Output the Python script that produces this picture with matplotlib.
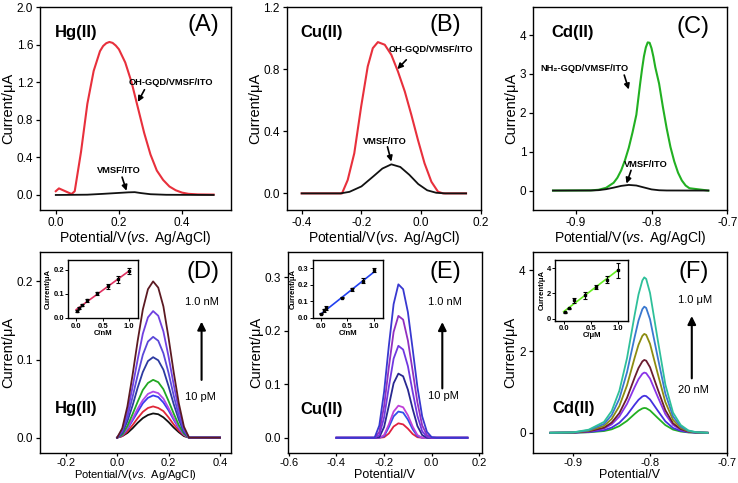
import numpy as np
import matplotlib
matplotlib.use("Agg")
import matplotlib.pyplot as plt

plt.rcParams['font.family'] = ['Liberation Sans', 'DejaVu Sans']
plt.rcParams['mathtext.fontset'] = 'custom'
plt.rcParams['mathtext.rm'] = 'Liberation Sans'
plt.rcParams['mathtext.it'] = 'Liberation Sans:italic'
plt.rcParams['axes.linewidth'] = 1.0

# ---- (A) Hg(II), two electrodes
a_red_x = [0.0, 0.01, 0.03, 0.05, 0.06, 0.08, 0.10, 0.12, 0.14, 0.15, 0.16, 0.17, 0.18, 0.19, 0.20, 0.22,
           0.24, 0.26, 0.28, 0.30, 0.32, 0.34, 0.36, 0.38, 0.40, 0.42, 0.45, 0.50]
a_red_y = [0.04, 0.07, 0.04, 0.01, 0.04, 0.46, 0.97, 1.32, 1.53, 1.585, 1.615, 1.628, 1.618, 1.59, 1.55, 1.41,
           1.20, 0.93, 0.66, 0.43, 0.26, 0.16, 0.09, 0.05, 0.025, 0.012, 0.006, 0.004]
a_blk_x = [0.0, 0.10, 0.15, 0.20, 0.23, 0.25, 0.27, 0.30, 0.35, 0.50]
a_blk_y = [0.0, 0.003, 0.012, 0.022, 0.028, 0.030, 0.020, 0.008, 0.002, 0.0]

# ---- (B) Cu(II)
b_red_x = [-0.40, -0.265, -0.246, -0.224, -0.201, -0.179, -0.162, -0.145, -0.122, -0.10,
           -0.078, -0.055, -0.033, -0.011, 0.011, 0.034, 0.056, 0.073, 0.15]
b_red_y = [0.0, 0.0, 0.086, 0.258, 0.559, 0.817, 0.935, 0.974, 0.957, 0.892,
           0.785, 0.656, 0.505, 0.344, 0.194, 0.075, 0.011, 0.0, 0.0]
b_blk_x = [-0.40, -0.27, -0.24, -0.20, -0.16, -0.13, -0.10, -0.07, -0.04, -0.01, 0.02, 0.05, 0.08, 0.15]
b_blk_y = [0.0, 0.0, 0.01, 0.045, 0.11, 0.16, 0.187, 0.17, 0.12, 0.06, 0.02, 0.004, 0.0, 0.0]

# ---- (C) Cd(II)
c_grn_x = [-0.93, -0.88, -0.87, -0.86, -0.85, -0.845, -0.84, -0.835, -0.83, -0.825, -0.82, -0.8175,
           -0.815, -0.8125, -0.81, -0.8075, -0.805, -0.8025, -0.80, -0.7975, -0.795, -0.79,
           -0.785, -0.78, -0.775, -0.77, -0.765, -0.76, -0.755, -0.75, -0.725]
c_grn_y = [0.0, 0.005, 0.02, 0.07, 0.2, 0.33, 0.52, 0.78, 1.1, 1.5, 1.95, 2.35,
           2.75, 3.12, 3.45, 3.68, 3.81, 3.80, 3.66, 3.44, 3.17, 2.75,
           2.15, 1.6, 1.12, 0.75, 0.46, 0.26, 0.13, 0.06, 0.0]
c_blk_x = [-0.93, -0.88, -0.87, -0.86, -0.85, -0.84, -0.83, -0.82, -0.81, -0.80, -0.79, -0.78, -0.725]
c_blk_y = [0.0, 0.002, 0.01, 0.035, 0.075, 0.12, 0.145, 0.13, 0.08, 0.03, 0.008, 0.002, 0.0]

# ---- (D) Hg(II) 10 pM -> 1.0 nM
d_x = [0.0, 0.02, 0.04, 0.06, 0.08, 0.10, 0.12, 0.14, 0.16, 0.18, 0.20, 0.22, 0.24, 0.26, 0.28, 0.30, 0.35, 0.40]
d_curves = [
    [0, .002, .006, .012, .019, .025, .029, .031, .030, .026, .020, .013, .007, .002, 0, 0, 0, 0],
    [0, .002, .008, .016, .025, .033, .038, .040, .038, .034, .026, .017, .009, .003, 0, 0, 0, 0],
    [0, .003, .011, .022, .033, .044, .051, .054, .052, .045, .035, .023, .012, .004, 0, 0, 0, 0],
    [0, .004, .012, .024, .037, .048, .056, .059, .057, .050, .038, .025, .013, .004, 0, 0, 0, 0],
    [0, .004, .015, .030, .046, .061, .070, .074, .071, .062, .047, .031, .016, .005, 0, 0, 0, 0],
    [0, .006, .021, .041, .064, .084, .098, .103, .099, .087, .066, .043, .023, .007, 0, 0, 0, 0],
    [0, .008, .026, .052, .080, .106, .123, .129, .124, .108, .083, .054, .028, .009, 0, 0, 0, 0],
    [0, .010, .032, .065, .100, .133, .154, .162, .156, .136, .104, .068, .036, .011, 0, 0, 0, 0],
    [0, .012, .040, .080, .124, .164, .190, .200, .192, .168, .128, .084, .044, .014, 0, 0, 0, 0],
]
d_colors = ['#111111', '#e02838', '#3a3af0', '#b048e8', '#22a822', '#2c3aa0', '#5a48d8', '#7040e0', '#5c1a22']
d_conc = [0.01, 0.05, 0.1, 0.2, 0.4, 0.6, 0.8, 1.0]
d_cur = [0.029, 0.042, 0.052, 0.072, 0.102, 0.130, 0.160, 0.195]
d_err = [0.003, 0.004, 0.004, 0.006, 0.007, 0.010, 0.014, 0.012]
d_fit_x = [0.0, 1.0]
d_fit_y = [0.034, 0.194]

# ---- (E) Cu(II) 10 pM -> 1.0 nM
e_x = [-0.40, -0.26, -0.24, -0.22, -0.20, -0.18, -0.16, -0.14, -0.12, -0.10, -0.08, -0.06, -0.04, -0.02, 0.00, 0.02, 0.15]
e_curves = [
    [0, 0, 0, 0, 0.001, 0.008, 0.021, 0.027, 0.025, 0.017, 0.007, 0.001, 0, 0, 0, 0, 0],
    [0, 0, 0, 0, 0.003, 0.020, 0.040, 0.049, 0.047, 0.034, 0.016, 0.003, 0, 0, 0, 0, 0],
    [0, 0, 0, 0, 0.005, 0.025, 0.049, 0.060, 0.057, 0.042, 0.021, 0.005, 0, 0, 0, 0, 0],
    [0, 0, 0, 0.001, 0.020, 0.060, 0.102, 0.120, 0.115, 0.090, 0.054, 0.022, 0.005, 0, 0, 0, 0],
    [0, 0, 0, 0.005, 0.038, 0.095, 0.148, 0.172, 0.165, 0.134, 0.086, 0.041, 0.012, 0.002, 0, 0, 0],
    [0, 0, 0, 0.011, 0.059, 0.132, 0.198, 0.228, 0.221, 0.182, 0.125, 0.066, 0.023, 0.005, 0, 0, 0],
    [0, 0, 0, 0.023, 0.086, 0.172, 0.250, 0.287, 0.278, 0.235, 0.166, 0.095, 0.040, 0.011, 0.001, 0, 0],
]
e_colors = ['#e02040', '#3050e8', '#c040d8', '#282890', '#7038e0', '#9030c0', '#3838d0']
e_conc = [0.01, 0.05, 0.1, 0.4, 0.6, 0.8, 1.0]
e_cur = [0.025, 0.045, 0.058, 0.122, 0.172, 0.225, 0.288]
e_err = [0.003, 0.008, 0.010, 0.004, 0.008, 0.015, 0.012]
e_fit_x = [0.0, 1.0]
e_fit_y = [0.022, 0.275]

# ---- (F) Cd(II) 20 nM -> 1.0 uM
f_x = [-0.93, -0.90, -0.88, -0.86, -0.85, -0.84, -0.83, -0.82, -0.815, -0.81, -0.8075, -0.805,
       -0.80, -0.79, -0.78, -0.77, -0.76, -0.75, -0.74, -0.725]
f_curves = [
    [0, 0.002, 0.012, 0.043, 0.085, 0.165, 0.293, 0.464, 0.543, 0.598, 0.61, 0.604, 0.549, 0.366, 0.189, 0.079, 0.031, 0.009, 0.002, 0],
    [0, 0.003, 0.018, 0.064, 0.127, 0.246, 0.437, 0.692, 0.810, 0.892, 0.91, 0.901, 0.819, 0.546, 0.282, 0.118, 0.046, 0.014, 0.004, 0],
    [0, 0.004, 0.030, 0.104, 0.207, 0.400, 0.710, 1.125, 1.317, 1.450, 1.48, 1.465, 1.332, 0.888, 0.459, 0.192, 0.074, 0.022, 0.006, 0],
    [0, 0.005, 0.036, 0.125, 0.251, 0.483, 0.859, 1.360, 1.593, 1.754, 1.79, 1.772, 1.611, 1.074, 0.555, 0.233, 0.090, 0.027, 0.007, 0],
    [0, 0.007, 0.049, 0.170, 0.340, 0.656, 1.166, 1.847, 2.163, 2.381, 2.43, 2.406, 2.187, 1.458, 0.753, 0.316, 0.122, 0.036, 0.010, 0],
    [0, 0.009, 0.062, 0.217, 0.434, 0.837, 1.488, 2.356, 2.759, 3.038, 3.10, 3.069, 2.790, 1.860, 0.961, 0.403, 0.155, 0.047, 0.012, 0],
    [0, 0.011, 0.076, 0.267, 0.535, 1.031, 1.834, 2.903, 3.400, 3.744, 3.82, 3.782, 3.438, 2.292, 1.184, 0.497, 0.191, 0.057, 0.015, 0],
]
f_colors = ['#22b022', '#4430e0', '#8a34e8', '#6a1c30', '#8c8c10', '#3a78d0', '#2ec09a']
f_conc = [0.02, 0.1, 0.2, 0.4, 0.6, 0.8, 1.0]
f_cur = [0.5, 0.82, 1.45, 1.85, 2.5, 3.1, 3.85]
f_err = [0.05, 0.06, 0.2, 0.3, 0.15, 0.25, 0.6]
f_fit_x = [0.0, 1.0]
f_fit_y = [0.55, 3.85]

RED = '#e8303c'
XLAB_REF = r'Potential/V($\it{vs.}$ Ag/AgCl)'
YLAB = 'Current/\u03bcA'

fig = plt.figure(figsize=(7.38, 4.83), dpi=100)


def style(ax, xlim, ylim, xticks, yticks, fmt, xlabel, xlsize=10, label_y=None):
    ax.set_xlim(*xlim)
    ax.set_ylim(*ylim)
    ax.set_xticks(xticks)
    ax.set_yticks(yticks)
    ax.set_xticklabels([fmt[0].format(v) for v in xticks])
    ax.set_yticklabels([fmt[1].format(v) for v in yticks])
    ax.tick_params(direction='out', length=3, width=0.9, labelsize=8.5, pad=2)
    ax.set_xlabel(xlabel, fontsize=xlsize, labelpad=0)
    ax.set_ylabel(YLAB, fontsize=10.5, labelpad=1)
    if label_y is not None:
        ax.tick_params(axis='x', length=2.5, pad=1, labelsize=8)
        ax.xaxis.set_label_coords(0.5, label_y)


def inset(rect, x, y, err, fx, fy, color, xlab, ylim, yticks, yfmt):
    ax = fig.add_axes(rect)
    ax.plot(fx, fy, color=color, lw=1.2, zorder=1)
    ax.errorbar(x, y, yerr=err, fmt='s', ms=2, color='k', ecolor='k',
                elinewidth=0.8, capsize=1.2, capthick=0.8, zorder=2)
    ax.set_xlim(-0.15, 1.18)
    ax.set_ylim(*ylim)
    ax.set_xticks([0.0, 0.5, 1.0])
    ax.set_xticklabels(['0.0', '0.5', '1.0'])
    ax.set_yticks(yticks)
    ax.set_yticklabels([yfmt.format(v) for v in yticks])
    ax.tick_params(direction='out', length=2, width=0.7, labelsize=5.5, pad=1)
    for lab in ax.get_xticklabels() + ax.get_yticklabels():
        lab.set_fontweight('bold')
    ax.set_xlabel(xlab, fontsize=5.5, fontweight='bold', labelpad=0)
    ax.set_ylabel(YLAB, fontsize=5.5, fontweight='bold', labelpad=1)
    return ax


arrow_small = dict(arrowstyle='-|>', color='k', lw=1.2, mutation_scale=8, shrinkA=0, shrinkB=0)
arrow_big = dict(arrowstyle='-|>', color='k', lw=1.5, mutation_scale=12, shrinkA=0, shrinkB=0)

# (A)
axA = fig.add_axes([0.0542, 0.5652, 0.2588, 0.4203])
axA.plot(a_red_x, a_red_y, color=RED, lw=1.5)
axA.plot(a_blk_x, a_blk_y, color='#111111', lw=1.3)
style(axA, (-0.05, 0.555), (-0.16, 2.0), [0.0, 0.2, 0.4], [0.0, 0.4, 0.8, 1.2, 1.6, 2.0],
      ('{:.1f}', '{:.1f}'), XLAB_REF)
axA.text(0.853, 0.911, '(A)', transform=axA.transAxes, fontsize=17, ha='center', va='center')
axA.text(0.079, 0.872, 'Hg(II)', transform=axA.transAxes, fontsize=12, fontweight='bold', va='center')
axA.text(0.363, 1.20, 'OH-GQD/VMSF/ITO', fontsize=6.7, fontweight='bold', ha='center', va='center')
axA.annotate('', xy=(0.26, 0.99), xytext=(0.281, 1.12), arrowprops=arrow_small)
axA.text(0.20, 0.26, 'VMSF/ITO', fontsize=6.7, fontweight='bold', ha='center', va='center')
axA.annotate('', xy=(0.224, 0.045), xytext=(0.21, 0.19), arrowprops=arrow_small)

# (B)
axB = fig.add_axes([0.3885, 0.5652, 0.2633, 0.4203])
axB.plot(b_red_x, b_red_y, color=RED, lw=1.5)
axB.plot(b_blk_x, b_blk_y, color='#111111', lw=1.3)
style(axB, (-0.45, 0.2), (-0.107, 1.2), [-0.4, -0.2, 0.0, 0.2], [0.0, 0.4, 0.8, 1.2],
      ('{:.1f}', '{:.1f}'), XLAB_REF)
axB.text(0.815, 0.911, '(B)', transform=axB.transAxes, fontsize=17, ha='center', va='center')
axB.text(0.069, 0.872, 'Cu(II)', transform=axB.transAxes, fontsize=12, fontweight='bold', va='center')
axB.text(0.033, 0.925, 'OH-GQD/VMSF/ITO', fontsize=6.7, fontweight='bold', ha='center', va='center')
axB.annotate('', xy=(-0.08, 0.80), xytext=(-0.05, 0.86), arrowprops=arrow_small)
axB.text(-0.122, 0.333, 'VMSF/ITO', fontsize=6.7, fontweight='bold', ha='center', va='center')
axB.annotate('', xy=(-0.10, 0.205), xytext=(-0.113, 0.30), arrowprops=arrow_small)

# (C)
axC = fig.add_axes([0.7226, 0.5652, 0.2629, 0.4203])
axC.plot(c_grn_x, c_grn_y, color='#22b022', lw=1.5)
axC.plot(c_blk_x, c_blk_y, color='#111111', lw=1.3)
style(axC, (-0.956, -0.7), (-0.5, 4.72), [-0.9, -0.8, -0.7], [0, 1, 2, 3, 4],
      ('{:.1f}', '{:d}'), XLAB_REF)
axC.text(0.825, 0.903, '(C)', transform=axC.transAxes, fontsize=17, ha='center', va='center')
axC.text(0.095, 0.872, 'Cd(II)', transform=axC.transAxes, fontsize=12, fontweight='bold', va='center')
axC.text(-0.888, 3.14, 'NH\u2082-GQD/VMSF/ITO', fontsize=6.7, fontweight='bold', ha='center', va='center')
axC.annotate('', xy=(-0.830, 2.60), xytext=(-0.836, 2.97), arrowprops=arrow_small)
axC.text(-0.808, 0.66, 'VMSF/ITO', fontsize=6.7, fontweight='bold', ha='center', va='center')
axC.annotate('', xy=(-0.833, 0.18), xytext=(-0.827, 0.52), arrowprops=arrow_small)

# (D)
axD = fig.add_axes([0.0542, 0.0615, 0.2588, 0.4174])
for ys, c in zip(d_curves, d_colors):
    axD.plot(d_x, ys, color=c, lw=1.3)
style(axD, (-0.3, 0.443), (-0.02, 0.238), [-0.2, 0.0, 0.2, 0.4], [0.0, 0.1, 0.2],
      ('{:.1f}', '{:.1f}'), XLAB_REF, xlsize=8, label_y=-0.072)
axD.text(0.855, 0.90, '(D)', transform=axD.transAxes, fontsize=17, ha='center', va='center')
axD.text(0.846, 0.752, '1.0 nM', transform=axD.transAxes, fontsize=8, ha='center', va='center')
axD.text(0.838, 0.281, '10 pM', transform=axD.transAxes, fontsize=8, ha='center', va='center')
axD.annotate('', xy=(0.846, 0.653), xytext=(0.846, 0.364), xycoords='axes fraction',
             textcoords='axes fraction', arrowprops=arrow_big)
axD.text(0.079, 0.223, 'Hg(II)', transform=axD.transAxes, fontsize=12, fontweight='bold', va='center')
inset([0.0926, 0.3406, 0.0949, 0.1211], d_conc, d_cur, d_err, d_fit_x, d_fit_y, '#e03060',
      'C/nM', (-0.003, 0.24), [0.0, 0.1, 0.2], '{:.1f}')

# (E)
axE = fig.add_axes([0.3898, 0.0627, 0.2629, 0.4161])
for ys, c in zip(e_curves, e_colors):
    axE.plot(e_x, ys, color=c, lw=1.3)
style(axE, (-0.605, 0.21), (-0.028, 0.348), [-0.6, -0.4, -0.2, 0.0, 0.2], [0.0, 0.1, 0.2, 0.3],
      ('{:.1f}', '{:.1f}'), 'Potential/V', xlsize=9, label_y=-0.08)
axE.text(0.811, 0.90, '(E)', transform=axE.transAxes, fontsize=17, ha='center', va='center')
axE.text(0.811, 0.752, '1.0 nM', transform=axE.transAxes, fontsize=8, ha='center', va='center')
axE.text(0.802, 0.28, '10 pM', transform=axE.transAxes, fontsize=8, ha='center', va='center')
axE.annotate('', xy=(0.797, 0.65), xytext=(0.797, 0.32), xycoords='axes fraction',
             textcoords='axes fraction', arrowprops=arrow_big)
axE.text(0.063, 0.215, 'Cu(II)', transform=axE.transAxes, fontsize=12, fontweight='bold', va='center')
inset([0.4241, 0.3406, 0.0949, 0.1211], e_conc, e_cur, e_err, e_fit_x, e_fit_y, '#2040f0',
      'C/nM', (-0.005, 0.35), [0.0, 0.1, 0.2, 0.3], '{:.1f}')

# (F)
axF = fig.add_axes([0.7218, 0.0627, 0.2629, 0.4161])
for ys, c in zip(f_curves, f_colors):
    axF.plot(f_x, ys, color=c, lw=1.3)
style(axF, (-0.953, -0.7), (-0.49, 4.45), [-0.9, -0.8, -0.7], [0, 2, 4],
      ('{:.1f}', '{:d}'), 'Potential/V', xlsize=9, label_y=-0.08)
axF.text(0.828, 0.90, '(F)', transform=axF.transAxes, fontsize=17, ha='center', va='center')
axF.text(0.837, 0.76, '1.0 \u03bcM', transform=axF.transAxes, fontsize=8, ha='center', va='center')
axF.text(0.828, 0.312, '20 nM', transform=axF.transAxes, fontsize=8, ha='center', va='center')
axF.annotate('', xy=(0.82, 0.68), xytext=(0.82, 0.37), xycoords='axes fraction',
             textcoords='axes fraction', arrowprops=arrow_big)
axF.text(0.103, 0.221, 'Cd(II)', transform=axF.transAxes, fontsize=12, fontweight='bold', va='center')
inset([0.7527, 0.3364, 0.0976, 0.1263], f_conc, f_cur, f_err, f_fit_x, f_fit_y, '#66ee22',
      'C/\u03bcM', (-0.15, 4.7), [0, 2, 4], '{:d}')

fig.savefig('out.png', dpi=100)
